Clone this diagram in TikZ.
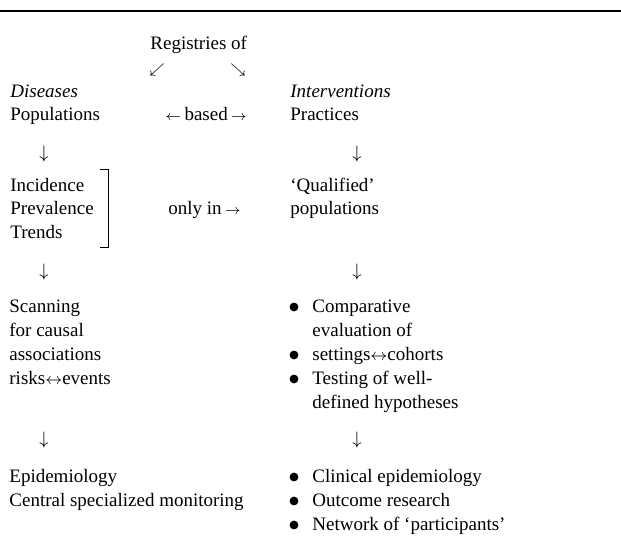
\documentclass[tikz,border=0pt]{standalone}
\usepackage{fontspec}
\setmainfont{Liberation Serif}
\newcommand\sarr[2]{{\fontsize{#1}{#1}\selectfont$#2$}}
\begin{document}
\begin{tikzpicture}[x=0.5pt,y=-0.5pt,
  txt/.style={anchor=base west,inner sep=0pt,font=\fontsize{9.5}{12}\selectfont},
  glyph/.style={anchor=base,inner sep=0pt,font=\fontsize{9.5}{12}\selectfont},
  dot/.style={fill=black}]
\useasboundingbox (0,0) rectangle (621,544);
\draw[line width=1.1pt] (0,11) -- (621,11);
% header
\node[txt] (reg) at (150,50) {Registries of};
\node[glyph] (sw) at (157,74) {\sarr{7}{\swarrow}};
\node[glyph] (se) at (238,74) {\sarr{7}{\searrow}};
\node[txt] (dis) at (10,98) {\textit{Diseases}};
\node[txt] (pop) at (10,121) {Populations};
\node[txt] (based) at (165,121) {\sarr{7}{\leftarrow}\,based\,\sarr{7}{\rightarrow}};
\node[txt] (int) at (290,98) {\textit{Interventions}};
\node[txt] (prac) at (290,121) {Practices};
% first arrows
\node[glyph] (d1l) at (44,159) {$\downarrow$};
\node[glyph] (d1r) at (357,159) {$\downarrow$};
% second block
\node[txt] (inc) at (10,192) {Incidence};
\node[txt] (prev) at (10,215) {Prevalence};
\node[txt] (tre) at (10,239) {Trends};
\draw[line width=0.5pt] (100,170) -- (108,170) -- (108,248) -- (100,248);
\node[txt] (only) at (168,215) {only in\,\sarr{7.5}{\rightarrow}};
\node[txt] (qual) at (290,192) {‘Qualified’};
\node[txt] (qpop) at (290,215) {populations};
% second arrows
\node[glyph] (d2l) at (44,277) {$\downarrow$};
\node[glyph] (d2r) at (357,277) {$\downarrow$};
% third block
\node[txt] (scan) at (9,313) {Scanning};
\node[txt] (caus) at (9,337) {for causal};
\node[txt] (assoc) at (9,361) {associations};
\node[txt] (risk) at (9,385) {risks\sarr{8}{\leftrightarrow}events};
\node[txt] (comp) at (312,313) {Comparative};
\node[txt] (eval) at (312,337) {evaluation of};
\node[txt] (sett) at (312,361) {settings\sarr{8}{\leftrightarrow}cohorts};
\node[txt] (test) at (312,385) {Testing of well-};
\node[txt] (hyp) at (312,409) {defined hypotheses};
\fill[dot] (294,307) circle (2.2pt);
\fill[dot] (294,355) circle (2.2pt);
\fill[dot] (294,379) circle (2.2pt);
% third arrows
\node[glyph] (d3l) at (44,445) {$\downarrow$};
\node[glyph] (d3r) at (357,445) {$\downarrow$};
% fourth block
\node[txt] (epi) at (9,483) {Epidemiology};
\node[txt] (cent) at (9,507) {Central specialized monitoring};
\node[txt] (clin) at (312,483) {Clinical epidemiology};
\node[txt] (outc) at (312,507) {Outcome research};
\node[txt] (netw) at (312,531) {Network of ‘participants’};
\fill[dot] (294,477) circle (2.2pt);
\fill[dot] (294,501) circle (2.2pt);
\fill[dot] (294,525) circle (2.2pt);
\end{tikzpicture}
\end{document}
